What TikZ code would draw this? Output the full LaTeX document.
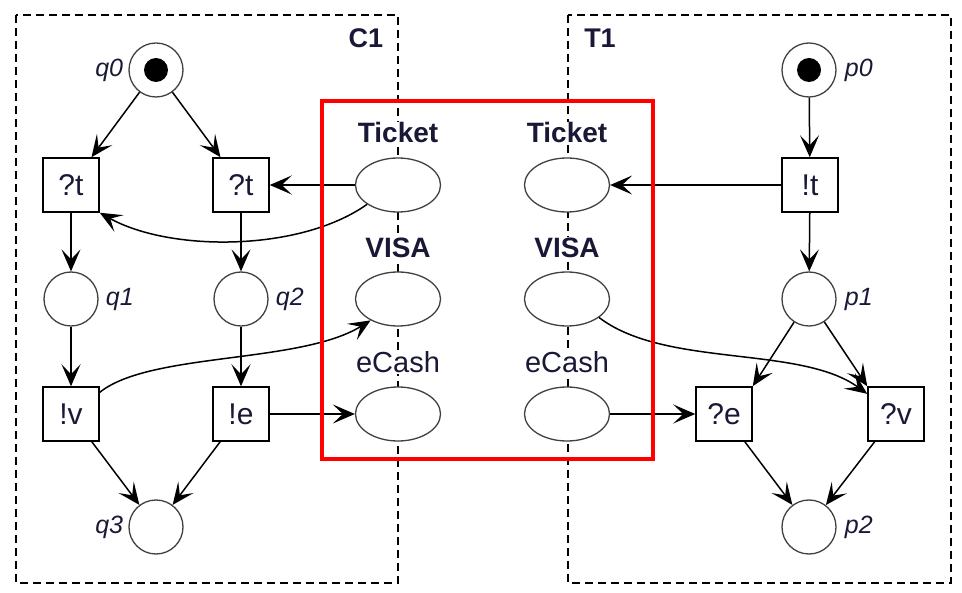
\documentclass[tikz,border=0pt]{standalone}
\usepackage{fontspec}
\setmainfont{Liberation Sans}
\usetikzlibrary{shapes.geometric,arrows.meta}
\definecolor{ink}{RGB}{25,25,55}
\tikzset{flow/.style={line width=1.5pt, -{Stealth[length=22pt,width=19pt,inset=10pt]}}}
\begin{document}
\begin{tikzpicture}[x=1pt,y=-1pt]

\tikzstyle{place} = [draw=black!75, line width=1.3pt, circle, fill=white,
	minimum size=54pt, inner sep=0pt];
\tikzstyle{trans} = [draw, line width=1.5pt, rectangle, fill=white,
	minimum width=56pt, minimum height=54pt, inner sep=0pt,
	text=ink, font=\fontsize{30}{32}\selectfont];
\tikzstyle{chan} = [draw=black!75, line width=1.3pt, ellipse, fill=white,
	minimum width=85pt, minimum height=54pt, inner sep=0pt];
\tikzstyle{chname} = [fill=white, inner sep=1pt, anchor=base, text=ink,
	font=\fontsize{29}{32}\selectfont];
\tikzstyle{lab} = [text=ink, inner sep=1pt, font=\fontsize{25}{28}\selectfont\itshape];
\tikzstyle{token} = [circle, fill=black, minimum size=24pt, inner sep=0pt];
\tikzstyle{frame} = [dash pattern=on 8pt off 5pt, line width=1.5pt];
\useasboundingbox (0,0) rectangle (962,593);

\draw[frame] (16,15) rectangle (398,583);
\draw[frame] (568,15) rectangle (951,583);
\node[chname,anchor=center,font=\fontsize{27}{30}\selectfont\bfseries,fill=none] (c1) at (366,38) {C1};
\node[chname,anchor=center,font=\fontsize{27}{30}\selectfont\bfseries,fill=none] (tt1) at (600,38) {T1};

% customer
\node[place,label={[lab,label distance=4pt]left:q0}] (q0) at (156,70) {};
\node[token] (q0m) at (q0) {};
\node[trans] (t1) at (71,185) {?t};
\node[trans] (t2) at (241,185) {?t};
\node[place,label={[lab,label distance=6pt]right:q1}] (q1) at (71,299) {};
\node[place,label={[lab,label distance=6pt]right:q2}] (q2) at (241,299) {};
\node[trans] (v1) at (71,414) {!v};
\node[trans] (e1) at (241,414) {!e};
\node[place,label={[lab,label distance=4pt]left:q3}] (q3) at (156,527) {};

% channels
\node[chan] (lt) at (398,185) {};
\node[chan] (lv) at (398,299) {};
\node[chan] (le) at (398,414) {};
\node[chname,font=\fontsize{28}{30}\selectfont\bfseries] (ltn) at (398,143) {Ticket};
\node[chname,font=\fontsize{28}{30}\selectfont\bfseries] (lvn) at (398,258) {VISA};
\node[chname] (len) at (398,373) {eCash};
\node[chan] (rt) at (567,185) {};
\node[chan] (rv) at (567,299) {};
\node[chan] (re) at (567,414) {};
\node[chname,font=\fontsize{28}{30}\selectfont\bfseries] (rtn) at (567,143) {Ticket};
\node[chname,font=\fontsize{28}{30}\selectfont\bfseries] (rvn) at (567,258) {VISA};
\node[chname] (ren) at (567,373) {eCash};

% ticket office
\node[place,label={[lab,label distance=7pt]right:p0}] (p0) at (809,70) {};
\node[token] (p0m) at (p0) {};
\node[trans] (pt) at (810,185) {!t};
\node[place,label={[lab,label distance=7pt]right:p1}] (p1) at (809,299) {};
\node[trans] (pe) at (724,414) {?e};
\node[trans] (pv) at (896,414) {?v};
\node[place,label={[lab,label distance=7pt]right:p2}] (p2) at (809,527) {};

\draw[flow] (q0) -- (t1);
\draw[flow] (q0) -- (t2);
\draw[flow] (t1) -- (q1);
\draw[flow] (t2) -- (q2);
\draw[flow] (q1) -- (v1);
\draw[flow] (q2) -- (e1);
\draw[flow] (v1) -- (q3);
\draw[flow] (e1) -- (q3);
\draw[flow] (lt) -- (t2);
\draw[flow] (lt.212) .. controls (300,252) and (170,252) .. (t1.south east);
\draw[flow] (v1.37) .. controls (150,352) and (300,364) .. (lv.218);
\draw[flow] (e1) -- (le);

\draw[flow] (p0) -- (pt);
\draw[flow] (pt) -- (p1);
\draw[flow] (pt) -- (rt);
\draw[flow] (p1) -- (pe.north east);
\draw[flow] (p1) -- (pv.north west);
\draw[flow] (pe) -- (p2);
\draw[flow] (pv) -- (p2);
\draw[flow] (re) -- (pe);
\draw[flow] (rv.-30) .. controls (665,368) and (800,345) .. (pv.145);

\draw[red, line width=4pt] (322,101) rectangle (653,459);

\end{tikzpicture}
\end{document}
